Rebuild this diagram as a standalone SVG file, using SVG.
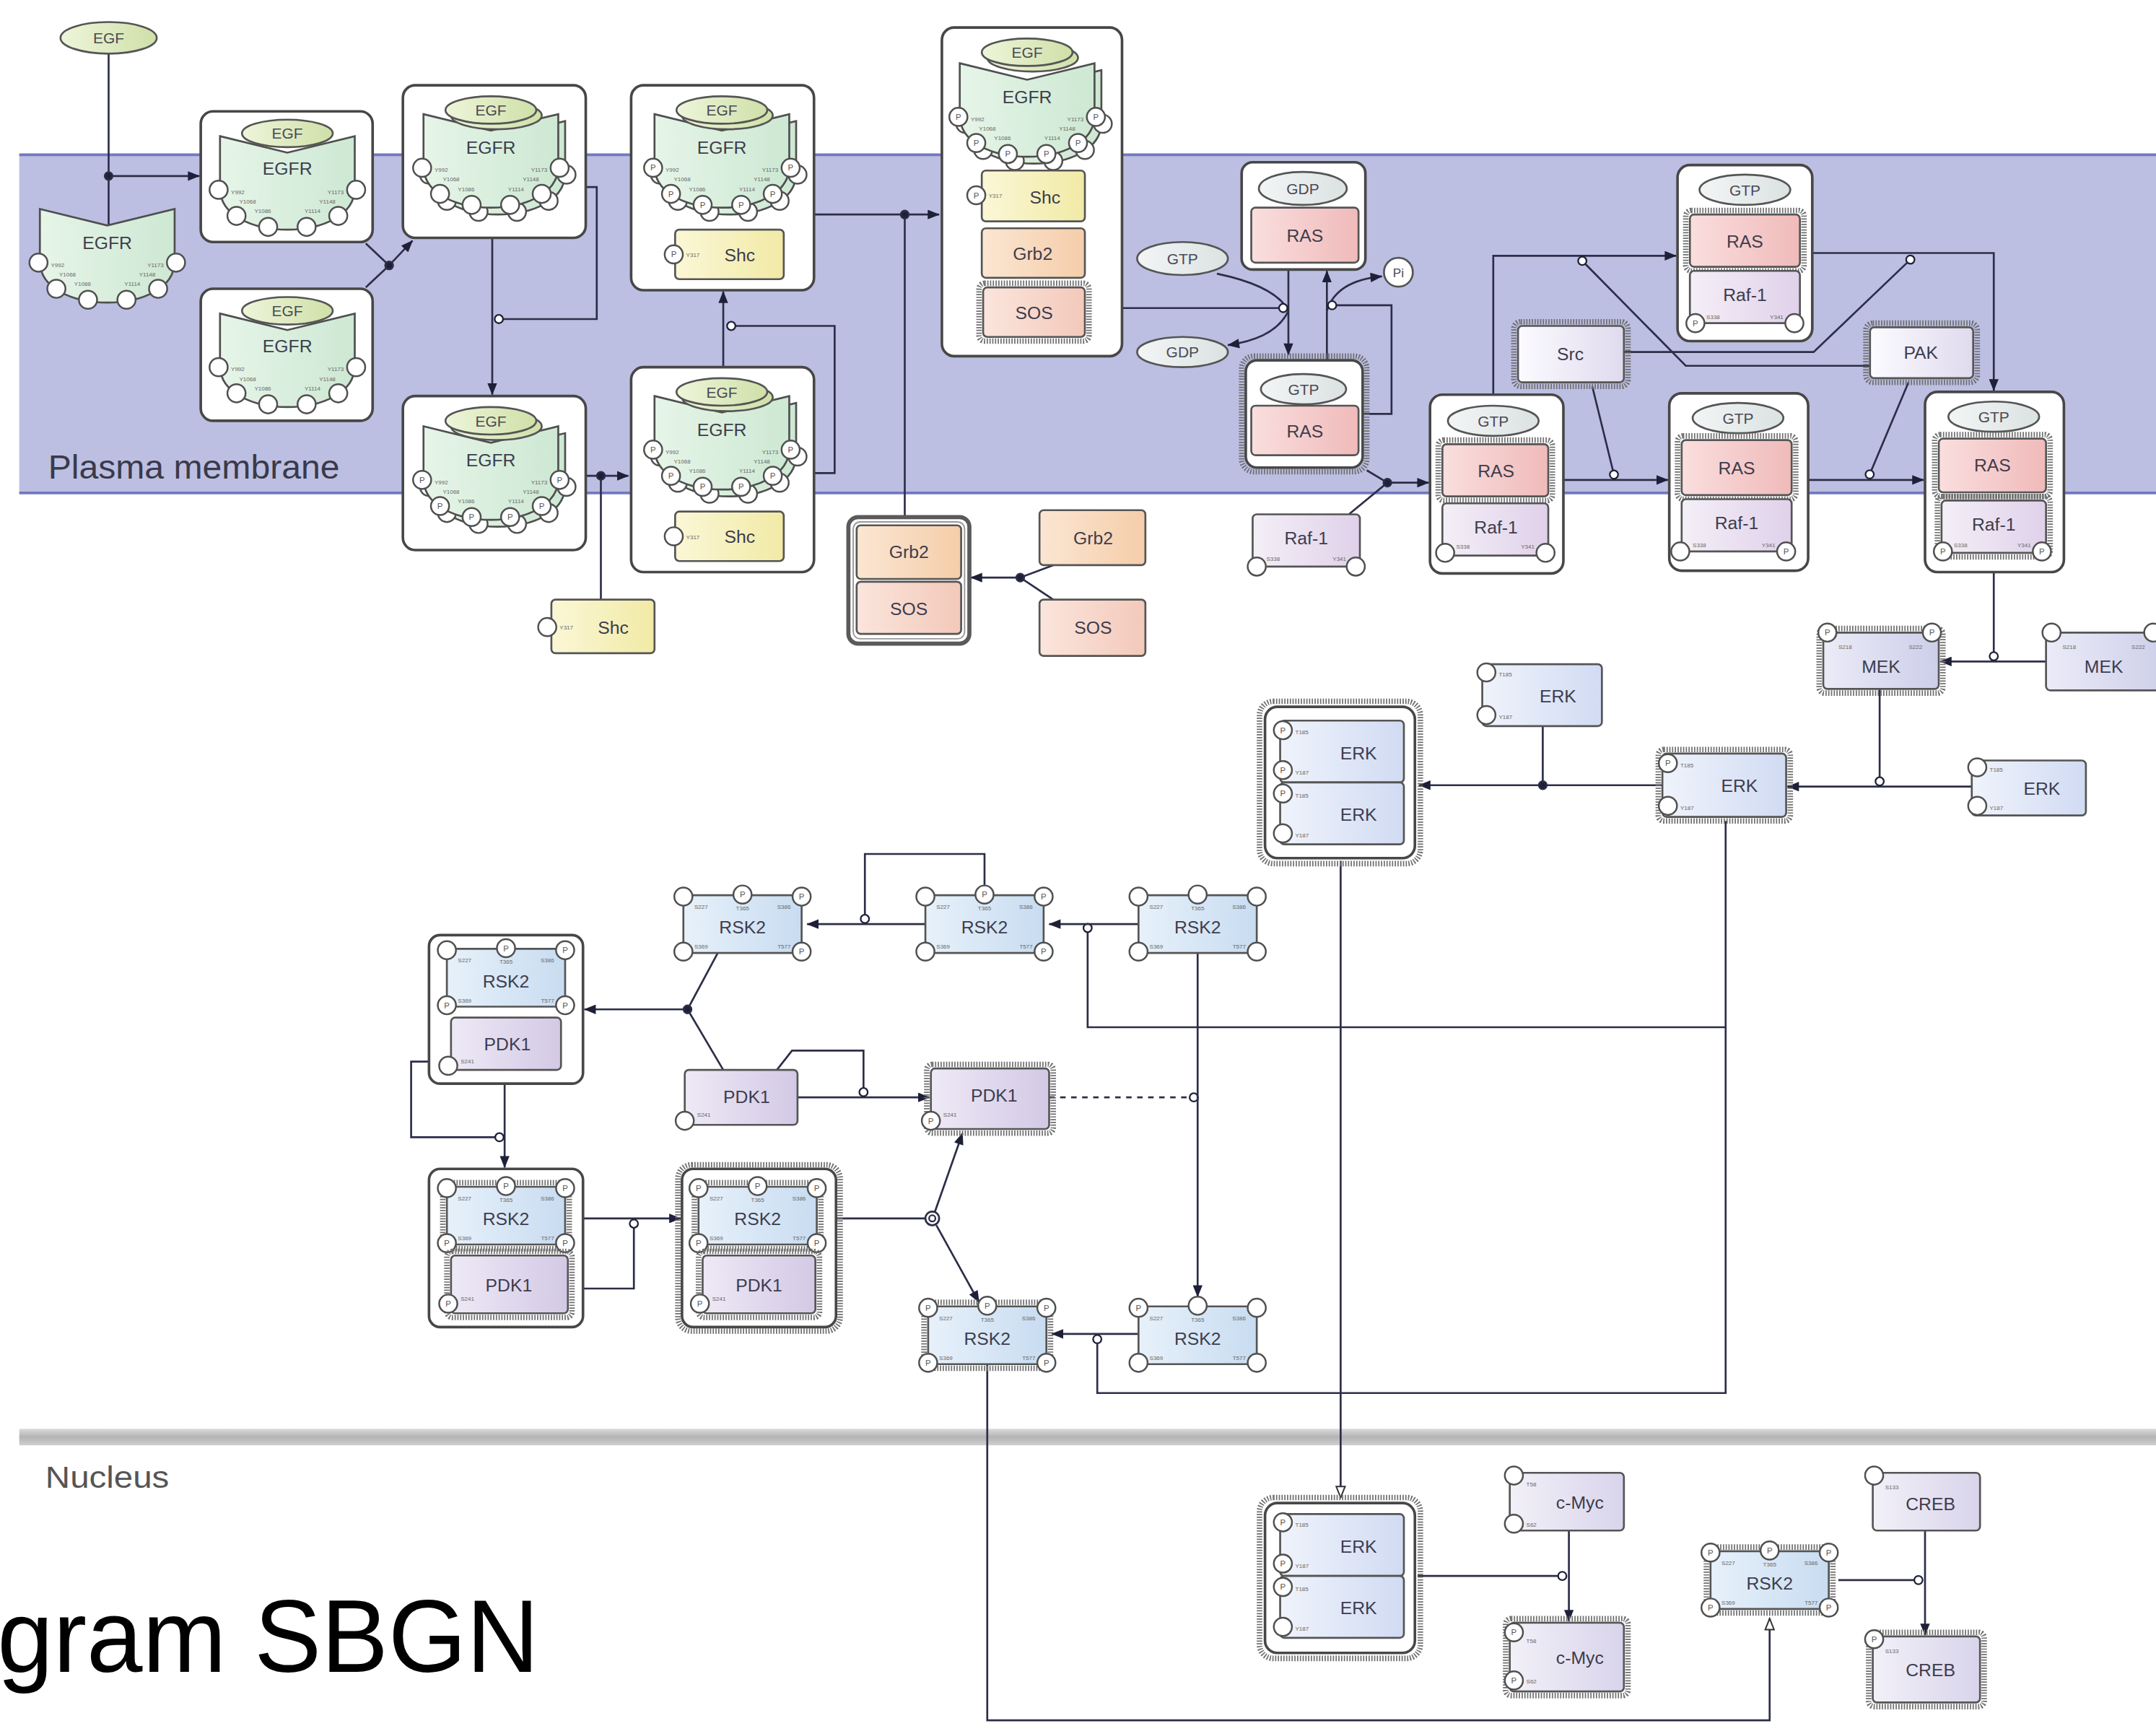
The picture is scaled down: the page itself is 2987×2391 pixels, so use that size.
<svg xmlns="http://www.w3.org/2000/svg" width="2987" height="2391" viewBox="0 0 2987 2391">
<style>
.cx{fill:#fff;stroke:#474747;stroke-width:1.9}
.mm{stroke:#555;stroke-width:1.4}
.hatch{fill:none;stroke:#6f6f6f;stroke-width:4;stroke-dasharray:0.9 1.1}
.sv{fill:#fff;stroke:#505050;stroke-width:1.3}
.ln{fill:none;stroke:#2c2e48;stroke-width:1.4}
.lbl{font-family:"Liberation Sans",Arial,sans-serif;font-size:13px;fill:#3d3d4d;text-anchor:middle}
.sm{font-family:"Liberation Sans",Arial,sans-serif;font-size:11px;fill:#4a4a55;text-anchor:middle}
.t{font-family:"Liberation Sans",Arial,sans-serif;font-size:4.2px;fill:#666}
.p{font-family:"Liberation Sans",Arial,sans-serif;font-size:6px;fill:#555;text-anchor:middle}
.dot{fill:#1e2038}
</style>
<defs>
<linearGradient id="gEGF"><stop offset="0" stop-color="#eef5da"/><stop offset="1" stop-color="#cfe0a8"/></linearGradient>
<linearGradient id="gEGFR"><stop offset="0" stop-color="#e6f5e8"/><stop offset="1" stop-color="#cde8d3"/></linearGradient>
<linearGradient id="gShc"><stop offset="0" stop-color="#fbf7d6"/><stop offset="1" stop-color="#f1eaa6"/></linearGradient>
<linearGradient id="gGrb2"><stop offset="0" stop-color="#fbe6d2"/><stop offset="1" stop-color="#f5cdaa"/></linearGradient>
<linearGradient id="gSOS"><stop offset="0" stop-color="#fbe5dd"/><stop offset="1" stop-color="#f3c9ba"/></linearGradient>
<linearGradient id="gRAS"><stop offset="0" stop-color="#fadede"/><stop offset="1" stop-color="#f0baba"/></linearGradient>
<linearGradient id="gRaf"><stop offset="0" stop-color="#f4eff7"/><stop offset="1" stop-color="#e0d1ea"/></linearGradient>
<linearGradient id="gNuc"><stop offset="0" stop-color="#f3f5f5"/><stop offset="1" stop-color="#dbe2e2"/></linearGradient>
<linearGradient id="gSrc"><stop offset="0" stop-color="#fcfbff"/><stop offset="1" stop-color="#e0daee"/></linearGradient>
<linearGradient id="gMEK"><stop offset="0" stop-color="#ebebf8"/><stop offset="1" stop-color="#cdcee9"/></linearGradient>
<linearGradient id="gERK"><stop offset="0" stop-color="#eff3fb"/><stop offset="1" stop-color="#d1dbf3"/></linearGradient>
<linearGradient id="gRSK"><stop offset="0" stop-color="#e7f1fa"/><stop offset="1" stop-color="#c8dcf1"/></linearGradient>
<linearGradient id="gPDK"><stop offset="0" stop-color="#eee9f6"/><stop offset="1" stop-color="#d3c9e5"/></linearGradient>
<linearGradient id="gTF"><stop offset="0" stop-color="#f2f0f8"/><stop offset="1" stop-color="#d9d4eb"/></linearGradient>
<linearGradient id="gNucl" x1="0" y1="0" x2="0" y2="1"><stop offset="0" stop-color="#dadada"/><stop offset="0.5" stop-color="#b4b4b4"/><stop offset="1" stop-color="#cfcfcf"/></linearGradient>
<marker id="arr" viewBox="0 0 10 8" markerWidth="9" markerHeight="7" refX="9.5" refY="4" orient="auto" markerUnits="userSpaceOnUse"><path d="M0,0 L10,4 L0,8 Z" fill="#1e2038"/></marker>
<marker id="oarr" viewBox="0 0 12 10" markerWidth="10" markerHeight="8" refX="11" refY="5" orient="auto" markerUnits="userSpaceOnUse"><path d="M1,1 L11,5 L1,9 Z" fill="#fff" stroke="#333" stroke-width="1.3"/></marker>
<marker id="cat" viewBox="0 0 10 10" markerWidth="8" markerHeight="8" refX="1" refY="5" orient="auto" markerUnits="userSpaceOnUse"><circle cx="5" cy="5" r="3.8" fill="#fff" stroke="#1e2038" stroke-width="1.5"/></marker>
<g id="oc"><circle r="6.6" class="sv"/></g>
<g id="pc"><circle r="6.6" class="sv"/><text class="p" y="2.1">P</text></g>
<path id="egfrPath" d="M-49,0 L0,12 L49,0 L49,38 C49,78 -49,78 -49,38 Z" fill="url(#gEGFR)" stroke="#4f4f4f" stroke-width="1.4"/>
<g id="egfrCircO"><use href="#oc" x="-50" y="39"/><use href="#oc" x="-37" y="58"/><use href="#oc" x="-14" y="66"/><use href="#oc" x="14" y="66"/><use href="#oc" x="37" y="58"/><use href="#oc" x="50" y="39"/></g>
<g id="egfrCircP"><use href="#pc" x="-50" y="39"/><use href="#pc" x="-37" y="58"/><use href="#pc" x="-14" y="66"/><use href="#pc" x="14" y="66"/><use href="#pc" x="37" y="58"/><use href="#pc" x="50" y="39"/></g>
<g id="egfrSites"><text class="t" x="-41" y="42">Y992</text><text class="t" x="-35" y="49">Y1068</text><text class="t" x="-24" y="56">Y1086</text><text class="t" x="41" y="42" text-anchor="end">Y1173</text><text class="t" x="35" y="49" text-anchor="end">Y1148</text><text class="t" x="24" y="56" text-anchor="end">Y1114</text></g>
<g id="egfrShadow"><use href="#egfrPath"/><use href="#egfrCircO"/></g>
<g id="egfrU"><use href="#egfrPath"/><use href="#egfrCircO"/><use href="#egfrSites"/></g>
<g id="egfrP"><use href="#egfrPath"/><use href="#egfrCircP"/><use href="#egfrSites"/></g>
<g id="rskBody"><rect x="4" y="4" width="86" height="42" rx="3" fill="url(#gRSK)" class="mm"/><text class="t" x="12" y="14">S227</text><text class="t" x="47" y="15" text-anchor="middle">T365</text><text class="t" x="82" y="14" text-anchor="end">S386</text><text class="t" x="12" y="43">S369</text><text class="t" x="82" y="43" text-anchor="end">T577</text></g>
</defs>
<rect width="2987" height="2391" fill="#fff"/>
<g transform="scale(1.905)">
<g id="compartments">
<rect x="14" y="112.5" width="1560" height="246" fill="#bcbfe2"/>
<line x1="14" y1="112.5" x2="1570" y2="112.5" stroke="#7378c0" stroke-width="2"/>
<line x1="14" y1="358.5" x2="1570" y2="358.5" stroke="#7378c0" stroke-width="2"/>
<text x="35" y="348" font-family="Liberation Sans, Arial, sans-serif" font-size="24.5" fill="#3a3a4a" textLength="212" lengthAdjust="spacingAndGlyphs">Plasma membrane</text>
<rect x="14" y="1039" width="1560" height="12" fill="url(#gNucl)"/>
<text x="33" y="1082" font-family="Liberation Sans, Arial, sans-serif" font-size="22" fill="#555" textLength="90" lengthAdjust="spacingAndGlyphs">Nucleus</text>
<text x="-2" y="1216" font-family="Liberation Sans, Arial, sans-serif" font-size="75" fill="#000" textLength="394" lengthAdjust="spacingAndGlyphs">gram SBGN</text>
</g>

<g id="connectors" class="ln">
<path d="M79,39 V164"/>
<path d="M79,128 H145" marker-end="url(#arr)"/>
<path d="M266,177 L283,193 L266,209"/>
<path d="M283,193 L300,175" marker-end="url(#arr)"/>
<path d="M358,173 V287" marker-end="url(#arr)"/>
<path d="M426,136 H434 V232 H366" marker-end="url(#cat)"/>
<path d="M437,436 V346"/>
<path d="M426,346 H457" marker-end="url(#arr)"/>
<path d="M526,267 V212" marker-end="url(#arr)"/>
<path d="M592,344 H607 V237 H535" marker-end="url(#cat)"/>
<path d="M592,156 H683" marker-end="url(#arr)"/>
<path d="M658,156 V376"/>
<path d="M766,411 L742,420 L766,436"/>
<path d="M742,420 H706" marker-end="url(#arr)"/>
<path d="M937,196 V258" marker-end="url(#arr)"/>
<path d="M885,199 Q928,208 937,226"/>
<path d="M937,226 Q928,246 893,251" marker-end="url(#arr)"/>
<path d="M816,224 H930" marker-end="url(#cat)"/>
<path d="M965,262 V197" marker-end="url(#arr)"/>
<path d="M965,226 Q972,204 1005,201" marker-end="url(#arr)"/>
<path d="M991,301 H1012 V222 H972" marker-end="url(#cat)"/>
<path d="M994,342 L1009,351 L981,374"/>
<path d="M1009,351 H1039" marker-end="url(#arr)"/>
<path d="M1086,287 V186 H1219" marker-end="url(#arr)"/>
<path d="M1360,266 H1226 L1153,192" marker-end="url(#cat)"/>
<path d="M1318,184 H1450 V284" marker-end="url(#arr)"/>
<path d="M1181,256 H1319 L1387,191" marker-end="url(#cat)"/>
<path d="M1137,349 H1213" marker-end="url(#arr)"/>
<path d="M1158,281 L1173,342" marker-end="url(#cat)"/>
<path d="M1315,349 H1399" marker-end="url(#arr)"/>
<path d="M1388,278 L1361,342" marker-end="url(#cat)"/>
<path d="M1488,481 H1411" marker-end="url(#arr)"/>
<path d="M1450,416 V474" marker-end="url(#cat)"/>
<path d="M1434,572 H1300" marker-end="url(#arr)"/>
<path d="M1367,501 V565" marker-end="url(#cat)"/>
<path d="M1209,571 H1032" marker-end="url(#arr)"/>
<path d="M1122,528 V571"/>
<path d="M975,626 V1089" marker-end="url(#oarr)"/>
<path d="M1255,597 V747 H791 V678" marker-end="url(#cat)"/>
<path d="M1255,747 V1013 H798 V977" marker-end="url(#cat)"/>
<path d="M828,672 H763" marker-end="url(#arr)"/>
<path d="M673,672 H587" marker-end="url(#arr)"/>
<path d="M716,644 V621 H629 V665" marker-end="url(#cat)"/>
<path d="M522,693 L500,734 L526,778"/>
<path d="M500,734 H425" marker-end="url(#arr)"/>
<path d="M580,798 H676" marker-end="url(#arr)"/>
<path d="M565,778 L576,764 H628 V791" marker-end="url(#cat)"/>
<path d="M763,798 H865" stroke-dasharray="4 4" marker-end="url(#cat)"/>
<path d="M871,693 V943" marker-end="url(#arr)"/>
<path d="M367,788 V849" marker-end="url(#arr)"/>
<path d="M312,772 H299 V827 H360" marker-end="url(#cat)"/>
<path d="M424,886 H495" marker-end="url(#arr)"/>
<path d="M424,937 H461 V893" marker-end="url(#cat)"/>
<path d="M608,886 H673"/>
<path d="M680,881 L700,824" marker-end="url(#arr)"/>
<path d="M681,891 L712,947" marker-end="url(#arr)"/>
<path d="M828,970 H765" marker-end="url(#arr)"/>
<path d="M718,992 V1251 H1287 V1177" marker-end="url(#oarr)"/>
<path d="M1141,1113 V1179" marker-end="url(#arr)"/>
<path d="M1031,1146 H1133" marker-end="url(#cat)"/>
<path d="M1400,1113 V1189" marker-end="url(#arr)"/>
<path d="M1337,1149 H1392" marker-end="url(#cat)"/>
<circle class="dot" cx="79" cy="128" r="2.8"/>
<circle class="dot" cx="283" cy="193" r="2.8"/>
<circle class="dot" cx="437" cy="346" r="2.8"/>
<circle class="dot" cx="658" cy="156" r="2.8"/>
<circle class="dot" cx="742" cy="420" r="2.8"/>
<circle class="dot" cx="1009" cy="351" r="2.8"/>
<circle class="dot" cx="1122" cy="571" r="2.8"/>
<circle class="dot" cx="500" cy="734" r="2.8"/>
<circle cx="678" cy="886" r="5" fill="#fff" stroke="#2c2e48" stroke-width="1.4"/>
<circle cx="678" cy="886" r="2.3" fill="none" stroke="#2c2e48" stroke-width="1.2"/>
</g>

<g id="n_egf0"><ellipse cx="79" cy="27.5" rx="35" ry="11.5" fill="url(#gEGF)" class="mm"/><text class="sm" x="79" y="31.5">EGF</text></g>
<g id="n_egfr0"><use href="#egfrU" transform="translate(78,152)"/><text class="lbl" x="78" y="181">EGFR</text></g>

<g id="n_c1"><rect class="cx" x="146" y="81" width="125" height="95" rx="9"/><use href="#egfrU" transform="translate(209,99)"/><ellipse cx="209" cy="97" rx="33" ry="10" fill="url(#gEGF)" class="mm"/><text class="sm" x="209" y="101">EGF</text><text class="lbl" x="209" y="127">EGFR</text></g>
<g id="n_c2"><rect class="cx" x="146" y="210" width="125" height="96" rx="9"/><use href="#egfrU" transform="translate(209,228)"/><ellipse cx="209" cy="226" rx="33" ry="10" fill="url(#gEGF)" class="mm"/><text class="sm" x="209" y="230">EGF</text><text class="lbl" x="209" y="256">EGFR</text></g>

<g id="n_c3"><rect class="cx" x="293" y="62" width="133" height="111" rx="9"/><use href="#egfrShadow" transform="translate(362,88)"/><use href="#egfrU" transform="translate(357,83)"/><ellipse cx="361" cy="84" rx="33" ry="10" fill="url(#gEGF)" class="mm"/><ellipse cx="357" cy="80" rx="33" ry="10" fill="url(#gEGF)" class="mm"/><text class="sm" x="357" y="84">EGF</text><text class="lbl" x="357" y="112">EGFR</text></g>

<g id="n_c4"><rect class="cx" x="293" y="288" width="133" height="112" rx="9"/><use href="#egfrShadow" transform="translate(362,315)"/><use href="#egfrP" transform="translate(357,310)"/><ellipse cx="361" cy="310" rx="33" ry="10" fill="url(#gEGF)" class="mm"/><ellipse cx="357" cy="306" rx="33" ry="10" fill="url(#gEGF)" class="mm"/><text class="sm" x="357" y="310">EGF</text><text class="lbl" x="357" y="339">EGFR</text></g>

<g id="n_c5"><rect class="cx" x="459" y="62" width="133" height="149" rx="9"/><use href="#egfrShadow" transform="translate(530,88)"/><use href="#egfrP" transform="translate(525,83)"/><ellipse cx="529" cy="84" rx="33" ry="10" fill="url(#gEGF)" class="mm"/><ellipse cx="525" cy="80" rx="33" ry="10" fill="url(#gEGF)" class="mm"/><text class="sm" x="525" y="84">EGF</text><text class="lbl" x="525" y="112">EGFR</text><rect x="491" y="167" width="79" height="36" rx="3" fill="url(#gShc)" class="mm"/><use href="#pc" x="490" y="185"/><text class="t" x="499" y="187">Y317</text><text class="lbl" x="538" y="190">Shc</text></g>

<g id="n_c6"><rect class="cx" x="459" y="267" width="133" height="149" rx="9"/><use href="#egfrShadow" transform="translate(530,293)"/><use href="#egfrP" transform="translate(525,288)"/><ellipse cx="529" cy="289" rx="33" ry="10" fill="url(#gEGF)" class="mm"/><ellipse cx="525" cy="285" rx="33" ry="10" fill="url(#gEGF)" class="mm"/><text class="sm" x="525" y="289">EGF</text><text class="lbl" x="525" y="317">EGFR</text><rect x="491" y="372" width="79" height="36" rx="3" fill="url(#gShc)" class="mm"/><use href="#oc" x="490" y="390"/><text class="t" x="499" y="392">Y317</text><text class="lbl" x="538" y="395">Shc</text></g>

<g id="n_c7"><rect class="cx" x="685" y="20" width="131" height="239" rx="9"/><use href="#egfrShadow" transform="translate(752,51)"/><use href="#egfrP" transform="translate(747,46)"/><ellipse cx="751" cy="42" rx="33" ry="10" fill="url(#gEGF)" class="mm"/><ellipse cx="747" cy="38" rx="33" ry="10" fill="url(#gEGF)" class="mm"/><text class="sm" x="747" y="42">EGF</text><text class="lbl" x="747" y="75">EGFR</text><rect x="714" y="124" width="75" height="37" rx="3" fill="url(#gShc)" class="mm"/><use href="#pc" x="710" y="142"/><text class="t" x="719" y="144">Y317</text><text class="lbl" x="760" y="148">Shc</text><rect x="714" y="166" width="75" height="36" rx="3" fill="url(#gGrb2)" class="mm"/><text class="lbl" x="751" y="189">Grb2</text><rect class="hatch" x="712" y="206" width="80" height="42" rx="4"/><rect x="715" y="209" width="74" height="36" rx="3" fill="url(#gSOS)" class="mm"/><text class="lbl" x="752" y="232">SOS</text></g>

<g id="n_shc"><rect x="401" y="436" width="75" height="39" rx="3" fill="url(#gShc)" class="mm"/><use href="#oc" x="398" y="456"/><text class="t" x="407" y="458">Y317</text><text class="lbl" x="446" y="461">Shc</text></g>

<g id="n_grb2sos"><rect x="617" y="376" width="88" height="92" rx="7" fill="#fff" stroke="#5a5a5a" stroke-width="3"/><rect x="620.5" y="379.5" width="81" height="85" rx="5" fill="none" stroke="#999" stroke-width="1"/><rect x="623" y="382" width="76" height="39" rx="3" fill="url(#gGrb2)" class="mm"/><text class="lbl" x="661" y="406">Grb2</text><rect x="623" y="423" width="76" height="38" rx="3" fill="url(#gSOS)" class="mm"/><text class="lbl" x="661" y="447">SOS</text></g>
<g id="n_grb2"><rect x="756" y="371" width="77" height="40" rx="3" fill="url(#gGrb2)" class="mm"/><text class="lbl" x="795" y="396">Grb2</text></g>
<g id="n_sos"><rect x="756" y="436" width="77" height="41" rx="3" fill="url(#gSOS)" class="mm"/><text class="lbl" x="795" y="461">SOS</text></g>

<g id="n_rasgdp"><rect class="cx" x="903" y="118" width="90" height="78" rx="8"/><ellipse cx="947.5" cy="137" rx="32" ry="12" fill="url(#gNuc)" class="mm"/><text class="sm" x="947.5" y="141">GDP</text><rect x="910" y="151" width="78" height="40" rx="3" fill="url(#gRAS)" class="mm"/><text class="lbl" x="949" y="176">RAS</text></g>
<g id="n_gtp"><ellipse cx="860" cy="188" rx="33" ry="12" fill="url(#gNuc)" class="mm"/><text class="sm" x="860" y="192">GTP</text></g>
<g id="n_gdp"><ellipse cx="860" cy="256" rx="33" ry="11" fill="url(#gNuc)" class="mm"/><text class="sm" x="860" y="260">GDP</text></g>
<g id="n_rasgtp"><rect class="hatch" x="903" y="259" width="91" height="84" rx="9"/><rect class="cx" x="906" y="262" width="85" height="78" rx="8"/><ellipse cx="948" cy="283" rx="31" ry="11" fill="url(#gNuc)" class="mm"/><text class="sm" x="948" y="287">GTP</text><rect x="910" y="295" width="78" height="36" rx="3" fill="url(#gRAS)" class="mm"/><text class="lbl" x="949" y="318">RAS</text></g>
<g id="n_pi"><circle cx="1017" cy="198" r="10.5" fill="#fff" class="mm"/><text class="sm" x="1017" y="201.5" style="font-size:9px">Pi</text></g>
<g id="n_raf"><rect x="911" y="374" width="78" height="38" rx="3" fill="url(#gRaf)" class="mm"/><use href="#oc" x="914" y="412"/><use href="#oc" x="986" y="412"/><text class="t" x="921" y="408">S338</text><text class="t" x="979" y="408" text-anchor="end">Y341</text><text class="lbl" x="950" y="396">Raf-1</text></g>

<g id="n_rasraf1"><rect class="cx" x="1040" y="287" width="97" height="130" rx="9"/><ellipse cx="1086" cy="306" rx="33" ry="11" fill="url(#gNuc)" class="mm"/><text class="sm" x="1086" y="310">GTP</text><rect class="hatch" x="1046" y="320" width="83" height="44" rx="4"/><rect x="1049" y="323" width="77" height="38" rx="3" fill="url(#gRAS)" class="mm"/><text class="lbl" x="1088" y="347">RAS</text><rect x="1049" y="366" width="77" height="38" rx="3" fill="url(#gRaf)" class="mm"/><text class="lbl" x="1088" y="388">Raf-1</text><use href="#oc" x="1051" y="402"/><use href="#oc" x="1124" y="402"/><text class="t" x="1059" y="399">S338</text><text class="t" x="1116" y="399" text-anchor="end">Y341</text></g>

<g id="n_rasraf2"><rect class="cx" x="1220" y="120" width="98" height="128" rx="9"/><ellipse cx="1269" cy="138" rx="33" ry="11" fill="url(#gNuc)" class="mm"/><text class="sm" x="1269" y="142">GTP</text><rect class="hatch" x="1226" y="153" width="86" height="44" rx="4"/><rect x="1229" y="156" width="80" height="38" rx="3" fill="url(#gRAS)" class="mm"/><text class="lbl" x="1269" y="180">RAS</text><rect x="1229" y="197" width="80" height="38" rx="3" fill="url(#gRaf)" class="mm"/><text class="lbl" x="1269" y="219">Raf-1</text><use href="#pc" x="1233" y="235"/><use href="#oc" x="1305" y="235"/><text class="t" x="1241" y="232">S338</text><text class="t" x="1297" y="232" text-anchor="end">Y341</text></g>

<g id="n_rasraf3"><rect class="cx" x="1214" y="286" width="101" height="129" rx="9"/><ellipse cx="1264" cy="304" rx="33" ry="11" fill="url(#gNuc)" class="mm"/><text class="sm" x="1264" y="308">GTP</text><rect class="hatch" x="1220" y="317" width="86" height="46" rx="4"/><rect x="1223" y="320" width="80" height="40" rx="3" fill="url(#gRAS)" class="mm"/><text class="lbl" x="1263" y="345">RAS</text><rect x="1223" y="363" width="80" height="38" rx="3" fill="url(#gRaf)" class="mm"/><text class="lbl" x="1263" y="385">Raf-1</text><use href="#oc" x="1222" y="401"/><use href="#pc" x="1299" y="401"/><text class="t" x="1231" y="398">S338</text><text class="t" x="1291" y="398" text-anchor="end">Y341</text></g>

<g id="n_rasraf4"><rect class="cx" x="1400" y="285" width="101" height="131" rx="9"/><ellipse cx="1450" cy="303" rx="33" ry="11" fill="url(#gNuc)" class="mm"/><text class="sm" x="1450" y="307">GTP</text><rect class="hatch" x="1407" y="316" width="84" height="45" rx="4"/><rect x="1410" y="319" width="78" height="39" rx="3" fill="url(#gRAS)" class="mm"/><text class="lbl" x="1449" y="343">RAS</text><rect class="hatch" x="1409" y="361" width="82" height="44" rx="4"/><rect x="1412" y="364" width="76" height="38" rx="3" fill="url(#gRaf)" class="mm"/><text class="lbl" x="1450" y="386">Raf-1</text><use href="#pc" x="1413" y="401"/><use href="#pc" x="1485" y="401"/><text class="t" x="1421" y="398">S338</text><text class="t" x="1477" y="398" text-anchor="end">Y341</text></g>

<g id="n_src"><rect class="hatch" x="1101" y="234" width="83" height="47" rx="5"/><rect x="1104" y="237" width="77" height="41" rx="3" fill="url(#gSrc)" class="mm"/><text class="lbl" x="1142" y="262">Src</text></g>
<g id="n_pak"><rect class="hatch" x="1357" y="235" width="81" height="43" rx="5"/><rect x="1360" y="238" width="75" height="37" rx="3" fill="url(#gSrc)" class="mm"/><text class="lbl" x="1397" y="261">PAK</text></g>

<g id="n_mekpp"><rect class="hatch" x="1323" y="457" width="90" height="47" rx="4"/><rect x="1326" y="460" width="84" height="41" rx="3" fill="url(#gMEK)" class="mm"/><use href="#pc" x="1329" y="460"/><use href="#pc" x="1405" y="460"/><text class="t" x="1337" y="472">S218</text><text class="t" x="1398" y="472" text-anchor="end">S222</text><text class="lbl" x="1368" y="489">MEK</text></g>
<g id="n_mek"><rect x="1488" y="460" width="90" height="42" rx="3" fill="url(#gMEK)" class="mm"/><use href="#oc" x="1492" y="460"/><use href="#oc" x="1566" y="460"/><text class="t" x="1500" y="472">S218</text><text class="t" x="1560" y="472" text-anchor="end">S222</text><text class="lbl" x="1530" y="489">MEK</text></g>

<g id="n_erk0"><rect x="1078" y="483" width="87" height="45" rx="3" fill="url(#gERK)" class="mm"/><use href="#oc" x="1081" y="489"/><use href="#oc" x="1081" y="520"/><text class="t" x="1090" y="492">T185</text><text class="t" x="1090" y="523">Y187</text><text class="lbl" x="1133" y="511">ERK</text></g>
<g id="n_erkp"><rect class="hatch" x="1206" y="545" width="96" height="52" rx="4"/><rect x="1209" y="548" width="90" height="46" rx="3" fill="url(#gERK)" class="mm"/><use href="#pc" x="1213" y="555"/><use href="#oc" x="1213" y="586"/><text class="t" x="1222" y="558">T185</text><text class="t" x="1222" y="589">Y187</text><text class="lbl" x="1265" y="576">ERK</text></g>
<g id="n_erk1"><rect x="1434" y="553" width="83" height="40" rx="3" fill="url(#gERK)" class="mm"/><use href="#oc" x="1438" y="558"/><use href="#oc" x="1438" y="586"/><text class="t" x="1447" y="561">T185</text><text class="t" x="1447" y="589">Y187</text><text class="lbl" x="1485" y="578">ERK</text></g>

<g id="n_erkdimer"><rect class="hatch" x="916" y="510" width="117" height="118" rx="10"/><rect class="cx" x="920" y="514" width="109" height="110" rx="9"/><rect x="931" y="524" width="90" height="45" rx="3" fill="url(#gERK)" class="mm"/><rect x="931" y="569" width="90" height="45" rx="3" fill="url(#gERK)" class="mm"/><use href="#pc" x="933" y="531"/><use href="#pc" x="933" y="560"/><use href="#pc" x="933" y="577"/><use href="#oc" x="933" y="606"/><text class="t" x="942" y="534">T185</text><text class="t" x="942" y="563">Y187</text><text class="t" x="942" y="580">T185</text><text class="t" x="942" y="609">Y187</text><text class="lbl" x="988" y="552">ERK</text><text class="lbl" x="988" y="597">ERK</text></g>

<g id="n_rsk2a" transform="translate(493,647)"><use href="#rskBody"/><use href="#oc" x="4" y="5"/><use href="#pc" x="47" y="3.5"/><use href="#pc" x="90" y="5"/><use href="#oc" x="4" y="45"/><use href="#pc" x="90" y="45"/><text class="lbl" x="47" y="32">RSK2</text></g>
<g id="n_rsk2b" transform="translate(669,647)"><use href="#rskBody"/><use href="#oc" x="4" y="5"/><use href="#pc" x="47" y="3.5"/><use href="#pc" x="90" y="5"/><use href="#oc" x="4" y="45"/><use href="#pc" x="90" y="45"/><text class="lbl" x="47" y="32">RSK2</text></g>
<g id="n_rsk2c" transform="translate(824,647)"><use href="#rskBody"/><use href="#oc" x="4" y="5"/><use href="#oc" x="47" y="3.5"/><use href="#oc" x="90" y="5"/><use href="#oc" x="4" y="45"/><use href="#oc" x="90" y="45"/><text class="lbl" x="47" y="32">RSK2</text></g>
<g id="n_rsk2d" transform="translate(671,946)"><rect class="hatch" x="1" y="1" width="92" height="48" rx="4"/><use href="#rskBody"/><use href="#pc" x="4" y="5"/><use href="#pc" x="47" y="3.5"/><use href="#pc" x="90" y="5"/><use href="#pc" x="4" y="45"/><use href="#pc" x="90" y="45"/><text class="lbl" x="47" y="32">RSK2</text></g>
<g id="n_rsk2e" transform="translate(824,946)"><use href="#rskBody"/><use href="#pc" x="4" y="5"/><use href="#oc" x="47" y="3.5"/><use href="#oc" x="90" y="5"/><use href="#oc" x="4" y="45"/><use href="#oc" x="90" y="45"/><text class="lbl" x="47" y="32">RSK2</text></g>

<g id="n_rskpdk1"><rect class="cx" x="312" y="680" width="112" height="108" rx="8"/><g transform="translate(321,686)"><use href="#rskBody"/><use href="#oc" x="4" y="5"/><use href="#pc" x="47" y="3.5"/><use href="#pc" x="90" y="5"/><use href="#pc" x="4" y="45"/><use href="#pc" x="90" y="45"/><text class="lbl" x="47" y="32">RSK2</text></g><rect x="328" y="740" width="80" height="38" rx="3" fill="url(#gPDK)" class="mm"/><use href="#oc" x="326" y="775"/><text class="t" x="335" y="773">S241</text><text class="lbl" x="369" y="764">PDK1</text></g>

<g id="n_rskpdk2"><rect class="cx" x="312" y="850" width="112" height="115" rx="8"/><g transform="translate(321,859)"><rect class="hatch" x="1" y="1" width="92" height="48" rx="4"/><use href="#rskBody"/><use href="#oc" x="4" y="5"/><use href="#pc" x="47" y="3.5"/><use href="#pc" x="90" y="5"/><use href="#pc" x="4" y="45"/><use href="#pc" x="90" y="45"/><text class="lbl" x="47" y="32">RSK2</text></g><rect class="hatch" x="325" y="910" width="91" height="48" rx="4"/><rect x="328" y="913" width="85" height="42" rx="3" fill="url(#gPDK)" class="mm"/><use href="#pc" x="326" y="948"/><text class="t" x="335" y="946">S241</text><text class="lbl" x="370" y="939">PDK1</text></g>

<g id="n_rskpdk3"><rect class="hatch" x="493" y="847" width="118" height="121" rx="10"/><rect class="cx" x="496" y="850" width="112" height="115" rx="8"/><g transform="translate(504,859)"><rect class="hatch" x="1" y="1" width="92" height="48" rx="4"/><use href="#rskBody"/><use href="#pc" x="4" y="5"/><use href="#pc" x="47" y="3.5"/><use href="#pc" x="90" y="5"/><use href="#pc" x="4" y="45"/><use href="#pc" x="90" y="45"/><text class="lbl" x="47" y="32">RSK2</text></g><rect class="hatch" x="508" y="910" width="88" height="48" rx="4"/><rect x="511" y="913" width="82" height="42" rx="3" fill="url(#gPDK)" class="mm"/><use href="#pc" x="509" y="948"/><text class="t" x="518" y="946">S241</text><text class="lbl" x="552" y="939">PDK1</text></g>

<g id="n_pdk1"><rect x="498" y="778" width="82" height="40" rx="3" fill="url(#gPDK)" class="mm"/><use href="#oc" x="498" y="815"/><text class="t" x="507" y="812">S241</text><text class="lbl" x="543" y="802">PDK1</text></g>
<g id="n_pdk1a"><rect class="hatch" x="674" y="774" width="92" height="50" rx="4"/><rect x="677" y="777" width="86" height="44" rx="3" fill="url(#gPDK)" class="mm"/><use href="#pc" x="677" y="815"/><text class="t" x="686" y="812">S241</text><text class="lbl" x="723" y="801">PDK1</text></g>

<g id="n_erkdimer_nuc"><rect class="hatch" x="916" y="1089" width="117" height="117" rx="10"/><rect class="cx" x="920" y="1093" width="109" height="109" rx="9"/><rect x="931" y="1101" width="90" height="45" rx="3" fill="url(#gERK)" class="mm"/><rect x="931" y="1146" width="90" height="45" rx="3" fill="url(#gERK)" class="mm"/><use href="#pc" x="933" y="1107"/><use href="#pc" x="933" y="1137"/><use href="#pc" x="933" y="1154"/><use href="#oc" x="933" y="1183"/><text class="t" x="942" y="1110">T185</text><text class="t" x="942" y="1140">Y187</text><text class="t" x="942" y="1157">T185</text><text class="t" x="942" y="1186">Y187</text><text class="lbl" x="988" y="1129">ERK</text><text class="lbl" x="988" y="1174">ERK</text></g>

<g id="n_myc"><rect x="1098" y="1071" width="83" height="42" rx="3" fill="url(#gTF)" class="mm"/><use href="#oc" x="1101" y="1073"/><use href="#oc" x="1101" y="1108"/><text class="t" x="1110" y="1081">T58</text><text class="t" x="1110" y="1110">S62</text><text class="lbl" x="1149" y="1097">c-Myc</text></g>
<g id="n_mycp"><rect class="hatch" x="1095" y="1177" width="89" height="56" rx="4"/><rect x="1098" y="1180" width="83" height="50" rx="3" fill="url(#gTF)" class="mm"/><use href="#pc" x="1101" y="1187"/><use href="#pc" x="1101" y="1222"/><text class="t" x="1110" y="1195">T58</text><text class="t" x="1110" y="1224">S62</text><text class="lbl" x="1149" y="1210">c-Myc</text></g>
<g id="n_rsk2nuc" transform="translate(1240,1124)"><rect class="hatch" x="1" y="1" width="92" height="48" rx="4"/><use href="#rskBody"/><use href="#pc" x="4" y="5"/><use href="#pc" x="47" y="3.5"/><use href="#pc" x="90" y="5"/><use href="#pc" x="4" y="45"/><use href="#pc" x="90" y="45"/><text class="lbl" x="47" y="32">RSK2</text></g>
<g id="n_creb"><rect x="1362" y="1071" width="78" height="42" rx="3" fill="url(#gTF)" class="mm"/><use href="#oc" x="1363" y="1073"/><text class="t" x="1371" y="1083">S133</text><text class="lbl" x="1404" y="1098">CREB</text></g>
<g id="n_crebp"><rect class="hatch" x="1359" y="1187" width="84" height="54" rx="4"/><rect x="1362" y="1190" width="78" height="48" rx="3" fill="url(#gTF)" class="mm"/><use href="#pc" x="1363" y="1192"/><text class="t" x="1371" y="1202">S133</text><text class="lbl" x="1404" y="1219">CREB</text></g>
</g>
</svg>
